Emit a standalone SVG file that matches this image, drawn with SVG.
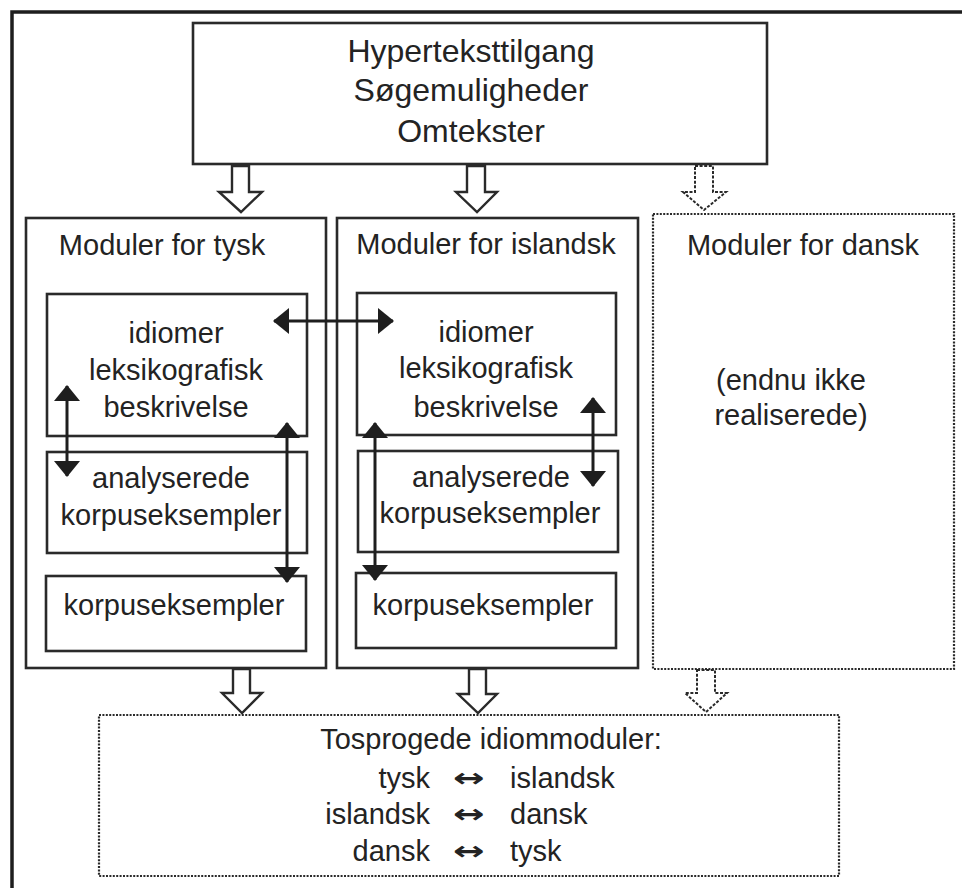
<svg xmlns="http://www.w3.org/2000/svg" width="962" height="888" viewBox="0 0 962 888">
<style>
.frame{fill:none;stroke:#1e1e1e;stroke-width:3.5}
.box{fill:#fff;stroke:#2a2a2a;stroke-width:2.6}
.dbox{fill:#fff;stroke:#2a2a2a;stroke-width:2.2;stroke-dasharray:2 1.4}
.t{font-family:"Liberation Sans",Arial,sans-serif;fill:#232323;text-anchor:middle}
.t32{font-size:32px}
.t29{font-size:29px}
.blk{fill:#fff;stroke:#2a2a2a;stroke-width:2.4;stroke-linejoin:miter}
.dblk{fill:#fff;stroke:#2a2a2a;stroke-width:2;stroke-dasharray:3 1.6}
.dbl{fill:none;stroke:#1e1e1e;stroke-width:3;marker-start:url(#ah);marker-end:url(#ah)}
.sym{font-family:"DejaVu Sans",sans-serif;font-size:26px;font-weight:bold}
</style>
<defs>
<marker id="ah" viewBox="0 0 16 26" refX="15" refY="13" markerWidth="16" markerHeight="26" markerUnits="userSpaceOnUse" orient="auto-start-reverse">
<path d="M0,0 L16,13 L0,26 z" fill="#1e1e1e"/>
</marker>
</defs>
<path class="frame" d="M12,888 V12 H962"/>

<g id="top">
<rect class="box" x="193" y="23" width="574" height="141"/>
<text class="t t32" x="471" y="62">Hyperteksttilgang</text>
<text class="t t32" x="471" y="101">Søgemuligheder</text>
<text class="t t32" x="471" y="142">Omtekster</text>
</g>

<g id="mod-tysk">
<rect class="box" x="26" y="218" width="300" height="450"/>
<text class="t t29" x="162" y="255">Moduler for tysk</text>
</g>
<g id="tysk-idiomer">
<rect class="box" x="47" y="294" width="260" height="142"/>
<text class="t t29" x="176" y="343">idiomer</text>
<text class="t t29" x="176" y="380">leksikografisk</text>
<text class="t t29" x="176" y="417">beskrivelse</text>
</g>
<g id="tysk-analyserede">
<rect class="box" x="47" y="452" width="260" height="101"/>
<text class="t t29" x="171" y="488">analyserede</text>
<text class="t t29" x="171" y="525">korpuseksempler</text>
</g>
<g id="tysk-korpus">
<rect class="box" x="46" y="576" width="260" height="75"/>
<text class="t t29" x="174" y="615">korpuseksempler</text>
</g>

<g id="mod-islandsk">
<rect class="box" x="337" y="218" width="301" height="450"/>
<text class="t t29" x="486" y="254">Moduler for islandsk</text>
</g>
<g id="islandsk-idiomer">
<rect class="box" x="357" y="293" width="259" height="142"/>
<text class="t t29" x="486" y="342">idiomer</text>
<text class="t t29" x="486" y="378">leksikografisk</text>
<text class="t t29" x="486" y="417">beskrivelse</text>
</g>
<g id="islandsk-analyserede">
<rect class="box" x="358" y="451" width="260" height="101"/>
<text class="t t29" x="491" y="487">analyserede</text>
<text class="t t29" x="490" y="523">korpuseksempler</text>
</g>
<g id="islandsk-korpus">
<rect class="box" x="356" y="573" width="260" height="75"/>
<text class="t t29" x="483" y="615">korpuseksempler</text>
</g>

<g id="mod-dansk">
<rect class="dbox" x="653" y="214" width="301" height="455"/>
<text class="t t29" x="803" y="255">Moduler for dansk</text>
<text class="t t29" x="791" y="390">(endnu ikke</text>
<text class="t t29" x="791" y="425">realiserede)</text>
</g>

<g id="tosprogede">
<rect class="dbox" x="99" y="715" width="740" height="161"/>
<text class="t t29" x="491" y="749">Tosprogede idiommoduler:</text>
<text class="t t29" style="text-anchor:end" x="430" y="788">tysk</text>
<text class="t sym" transform="translate(469,787) scale(1.45,1)">↔</text>
<text class="t t29" style="text-anchor:start" x="510" y="788">islandsk</text>
<text class="t t29" style="text-anchor:end" x="430" y="824">islandsk</text>
<text class="t sym" transform="translate(469,823) scale(1.45,1)">↔</text>
<text class="t t29" style="text-anchor:start" x="510" y="824">dansk</text>
<text class="t t29" style="text-anchor:end" x="430" y="861">dansk</text>
<text class="t sym" transform="translate(469,860) scale(1.45,1)">↔</text>
<text class="t t29" style="text-anchor:start" x="510" y="861">tysk</text>
</g>

<g id="connectors">
<path class="blk" d="M232,166 H249 V192 H262 L241,212 L219,192 H232 Z"/>
<path class="blk" d="M467,166 H485 V192 H497 L477,212 L456,192 H467 Z"/>
<path class="dblk" d="M695,166 H713 V192 H726 L704,210 L683,192 H695 Z"/>
<path class="blk" d="M233,669 H250 V693 H262 L242,713 L222,693 H233 Z"/>
<path class="blk" d="M469,669 H486 V694 H497 L478,713 L458,694 H469 Z"/>
<path class="dblk" d="M697,670 H715 V693 H727 L706,712 L685,693 H697 Z"/>
<line class="dbl" x1="274" y1="321" x2="393" y2="321"/>
<line class="dbl" x1="67" y1="386" x2="67" y2="476"/>
<line class="dbl" x1="287" y1="423" x2="287" y2="582"/>
<line class="dbl" x1="375" y1="423" x2="375" y2="580"/>
<line class="dbl" x1="593" y1="398" x2="593" y2="486"/>
</g>
</svg>
